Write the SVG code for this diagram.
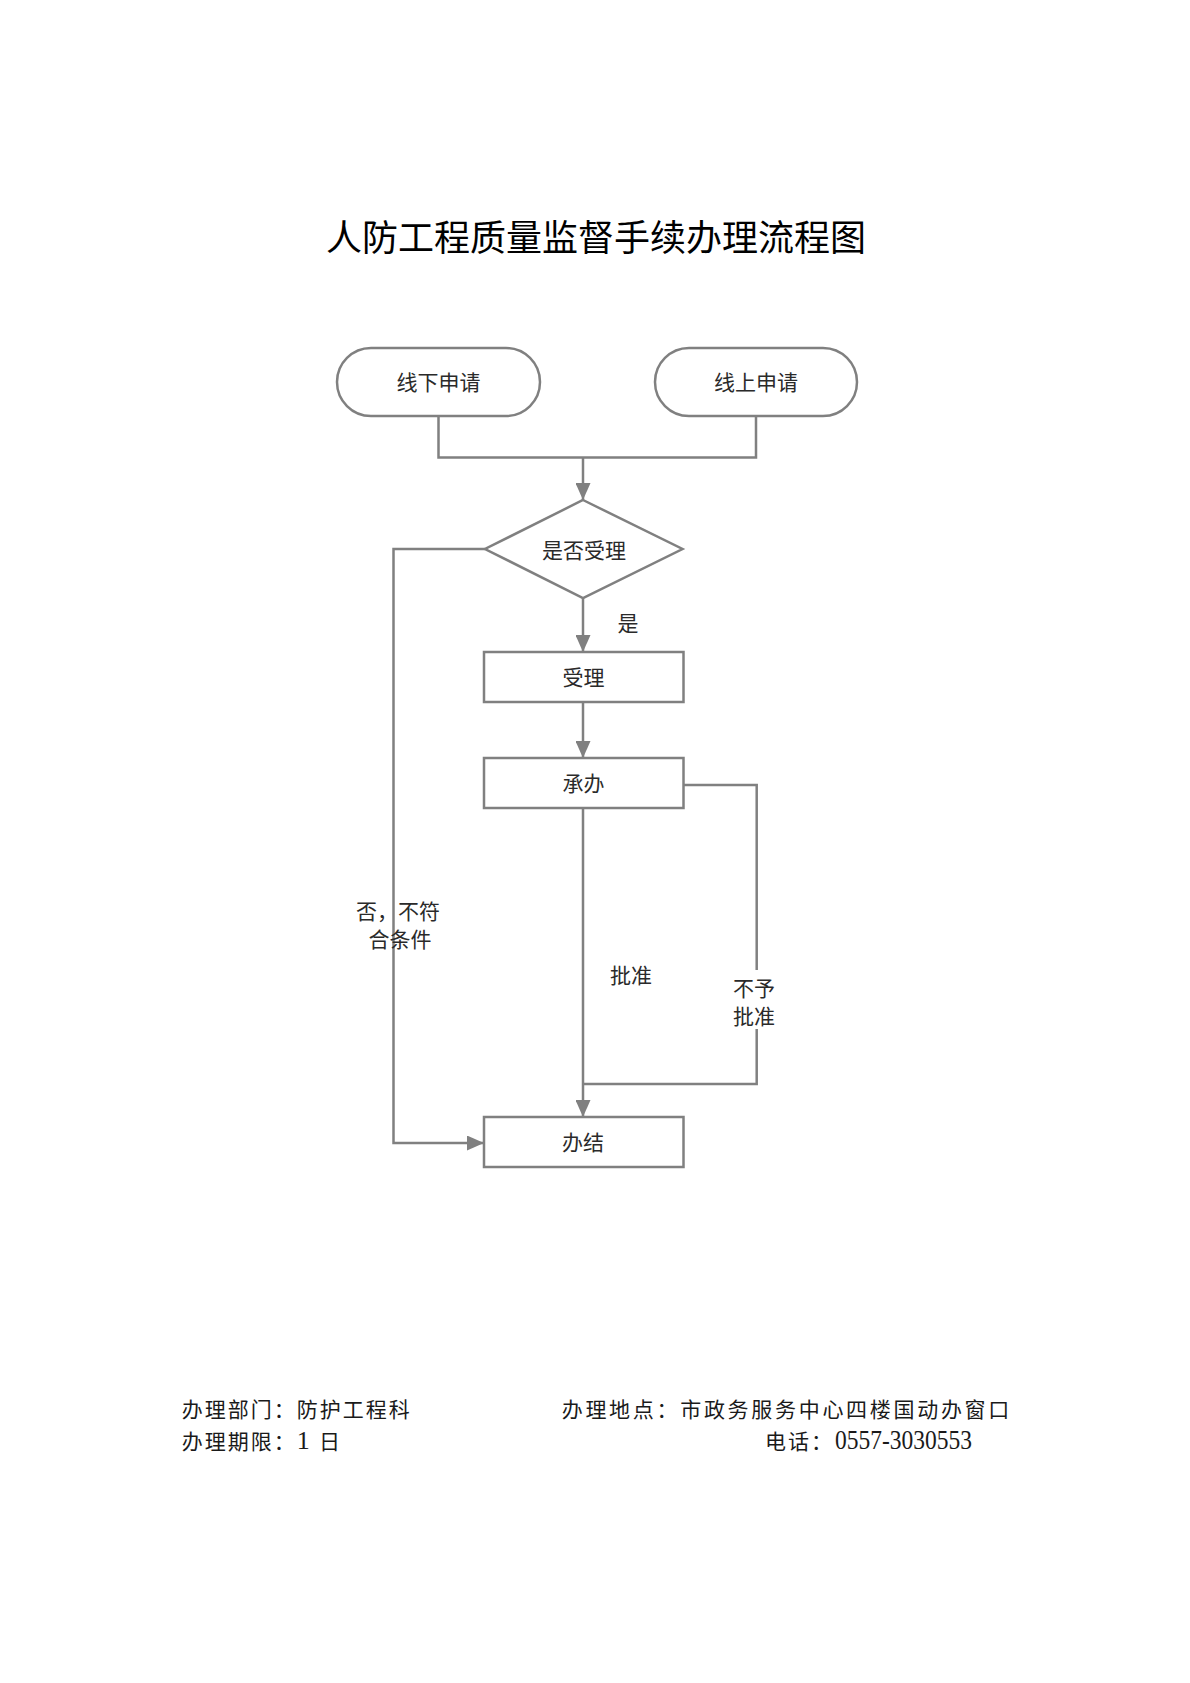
<svg xmlns="http://www.w3.org/2000/svg" width="1190" height="1683" viewBox="0 0 1190 1683">
<style>
.ln{fill:none;stroke:#808080;stroke-width:2.5}
.bx{fill:#fff;stroke:#808080;stroke-width:2.5}
.t{font-family:"Noto Sans CJK SC","Noto Sans CJK JP",sans-serif;font-size:21px;fill:#2a2a2a;text-anchor:middle}
.ft{font-family:"Liberation Serif","Noto Sans CJK SC",serif;font-size:21px;fill:#1a1a1a;letter-spacing:2px}
.title{font-family:"Noto Sans CJK SC","Noto Sans CJK JP",sans-serif;font-size:36px;fill:#000;text-anchor:middle}
</style>
<defs>
<marker id="ah" viewBox="0 0 17 15" refX="17" refY="7.5" markerWidth="17" markerHeight="15" markerUnits="userSpaceOnUse" orient="auto">
<path d="M0,0 L17,7.5 L0,15 z" fill="#808080"/>
</marker>
</defs>
<rect width="1190" height="1683" fill="#fff"/>
<text class="title" x="596" y="251">人防工程质量监督手续办理流程图</text>

<g id="connectors">
<path class="ln" d="M438.5,416 V457.5 H756 V416"/>
<path class="ln" d="M583,457.5 V500" marker-end="url(#ah)"/>
<path class="ln" d="M583,598 V652" marker-end="url(#ah)"/>
<path class="ln" d="M583,702 V758" marker-end="url(#ah)"/>
<path class="ln" d="M583,808 V1117" marker-end="url(#ah)"/>
<path class="ln" d="M683.5,785 H756.7 V1084 H583"/>
<path class="ln" d="M485,549 H393.5 V1143 H484" marker-end="url(#ah)"/>
</g>

<g id="offline">
<rect class="bx" x="337" y="348" width="203" height="68" rx="34" ry="34"/>
<text class="t" x="438.5" y="389.5">线下申请</text>
</g>
<g id="online">
<rect class="bx" x="655" y="348" width="202" height="68" rx="34" ry="34"/>
<text class="t" x="756" y="389.5">线上申请</text>
</g>
<g id="decision">
<polygon class="bx" points="583,500 682.5,549 583,598 485,549"/>
<text class="t" x="584" y="557.5">是否受理</text>
</g>
<g id="accept">
<rect class="bx" x="484" y="652" width="199.5" height="50"/>
<text class="t" x="583.5" y="684.5">受理</text>
</g>
<g id="handle">
<rect class="bx" x="484" y="758" width="199.5" height="50"/>
<text class="t" x="583.5" y="790.5">承办</text>
</g>
<g id="finish">
<rect class="bx" x="484" y="1117" width="199.5" height="50"/>
<text class="t" x="583" y="1150">办结</text>
</g>

<g id="labels">
<text class="t" x="628" y="630.5">是</text>
<text class="t" x="398" y="919">否，不符<tspan x="400" dy="27.5">合条件</tspan></text>
<text class="t" x="631" y="982.5">批准</text>
<rect x="731" y="970" width="46" height="59" fill="#fff"/>
<text class="t" x="754" y="996">不予<tspan x="754" dy="27.5">批准</tspan></text>
</g>

<g id="footer">
<text class="ft" x="181.7" y="1417">办理部门：防护工程科</text>
<text class="ft" x="181.7" y="1449">办理期限：<tspan style="font-size:26px">1</tspan> 日</text>
<text class="ft" x="561.7" y="1417" style="letter-spacing:2.7px">办理地点：市政务服务中心四楼国动办窗口</text>
<text class="ft" x="765" y="1449">电话：</text>
<text class="ft" x="835" y="1449" style="font-size:27px;letter-spacing:0px" textLength="137" lengthAdjust="spacingAndGlyphs">0557-3030553</text>
</g>
</svg>
